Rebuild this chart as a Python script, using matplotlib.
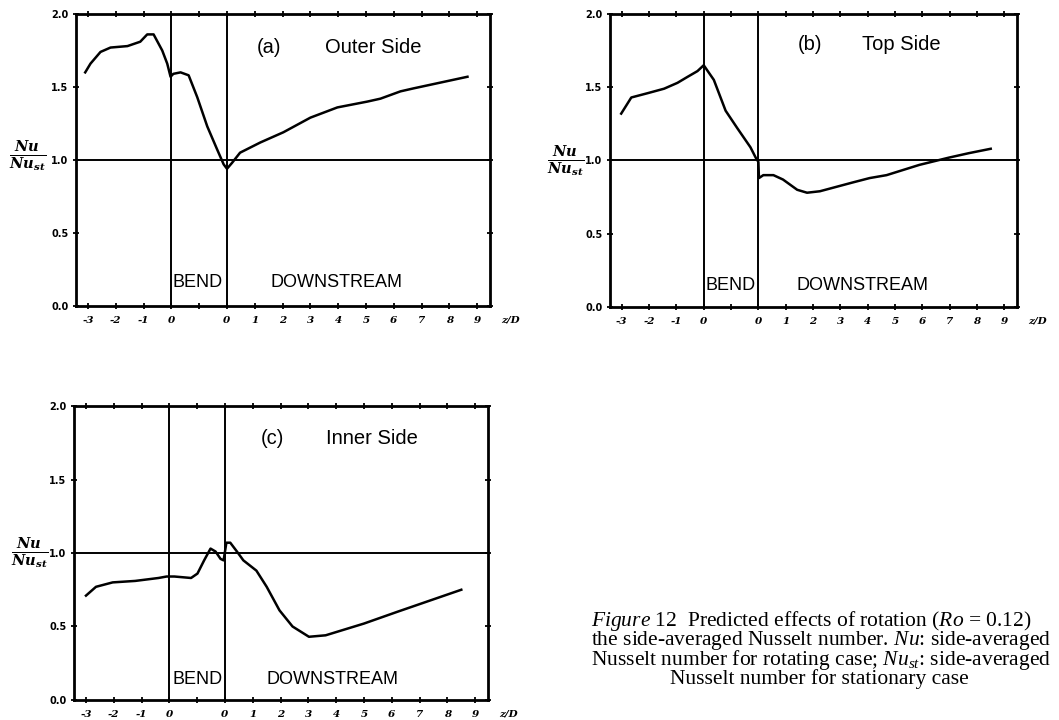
"""Figure 12: side-averaged Nusselt number ratio, rotating vs stationary (Ro = 0.12)."""

import matplotlib
matplotlib.use("Agg")
import matplotlib.pyplot as plt

plt.rcParams["mathtext.fontset"] = "custom"
plt.rcParams["mathtext.rm"] = "Liberation Serif"
plt.rcParams["mathtext.it"] = "Liberation Serif:italic"
plt.rcParams["mathtext.bf"] = "DejaVu Serif:italic:bold"

# x is a plotting coordinate: upstream x/D in [-3, 0], bend mapped to [0, 2],
# downstream z/D mapped to 2 + z/D
outer_x = [-3.10, -2.91, -2.55, -2.19, -1.58, -1.12, -0.87, -0.64, -0.33, -0.15,
           -0.03, 0.07, 0.33, 0.62, 0.93, 1.29, 1.65, 1.88, 2.00, 2.18,
           2.47, 3.20, 4.03, 5.00, 5.97, 7.05, 7.52, 8.24, 8.70, 10.65]
outer_y = [1.60, 1.66, 1.74, 1.77, 1.78, 1.81, 1.86, 1.86, 1.75, 1.66,
           1.57, 1.59, 1.60, 1.58, 1.43, 1.23, 1.07, 0.97, 0.94, 0.98,
           1.05, 1.12, 1.19, 1.29, 1.36, 1.40, 1.42, 1.47, 1.49, 1.57]

top_x = [-3.02, -2.65, -2.04, -1.45, -0.96, -0.60, -0.23, 0.00, 0.37, 0.80,
         1.23, 1.71, 1.90, 2.00, 2.02, 2.18, 2.55, 2.90, 3.42, 3.78,
         4.25, 5.45, 6.07, 6.69, 7.89, 8.98, 9.70, 10.50]
top_y = [1.32, 1.43, 1.46, 1.49, 1.53, 1.57, 1.61, 1.65, 1.55, 1.34,
         1.22, 1.09, 1.02, 0.99, 0.88, 0.90, 0.90, 0.87, 0.80, 0.78,
         0.79, 0.85, 0.88, 0.90, 0.97, 1.02, 1.05, 1.08]

inner_x = [-3.00, -2.64, -2.04, -1.23, -0.39, -0.10, 0.18, 0.78, 1.01, 1.25,
           1.48, 1.66, 1.84, 1.95, 2.05, 2.19, 2.43, 2.66, 3.13, 3.50,
           3.96, 4.43, 5.02, 5.62, 7.00, 8.20, 8.66, 10.50]
inner_y = [0.71, 0.77, 0.80, 0.81, 0.83, 0.84, 0.84, 0.83, 0.86, 0.95,
           1.03, 1.01, 0.96, 0.95, 1.07, 1.07, 1.01, 0.95, 0.88, 0.77,
           0.61, 0.50, 0.43, 0.44, 0.52, 0.60, 0.63, 0.75]

xtick_pos = list(range(-3, 12))
xtick_labels = ["-3", "-2", "-1", "0", "", "0", "1", "2", "3", "4", "5", "6", "7", "8", "9"]
ytick_pos = [0.0, 0.5, 1.0, 1.5, 2.0]
ytick_labels = ["0.0", "0.5", "1.0", "1.5", "2.0"]

caption = [
    r"$\mathit{Figure\ 12}$  Predicted effects of rotation ($\mathit{Ro}$ = 0.12)",
    r"the side-averaged Nusselt number. $\mathit{Nu}$: side-averaged",
    r"Nusselt number for rotating case; $\mathit{Nu_{st}}$: side-averaged",
    "Nusselt number for stationary case",
]

fig = plt.figure(figsize=(10.59, 7.2), dpi=100)


def panel(rect, xs, ys, tag, name, tag_x, name_x, txt_y, bend_x, down_x, lab_y, ylab_x, ylab_y):
    ax = fig.add_axes(rect)
    ax.plot(xs, ys, color="black", lw=1.8, solid_joinstyle="round")
    ax.axhline(1.0, color="black", lw=1.4)
    ax.axvline(0.0, color="black", lw=1.4)
    ax.axvline(2.0, color="black", lw=1.4)
    ax.set_xlim(-3.43, 11.46)
    ax.set_ylim(0.0, 2.0)
    for s in ax.spines.values():
        s.set_linewidth(2.0)
    ax.set_xticks(xtick_pos)
    ax.set_xticklabels(xtick_labels, fontsize=7.5, fontweight="bold",
                       fontstyle="italic", family="DejaVu Serif")
    ax.set_yticks(ytick_pos)
    ax.set_yticklabels(ytick_labels, fontsize=7, fontweight="bold", family="DejaVu Sans")
    ax.tick_params(direction="inout", length=5, width=1.3, top=True, right=True,
                   labelright=False, labeltop=False, pad=3)
    ax.tick_params(axis="x", pad=5)
    ax.text(12.2, -0.048, "z/D", transform=ax.get_xaxis_transform(), ha="center",
            va="center", fontsize=7.5, fontweight="bold", fontstyle="italic",
            family="DejaVu Serif")
    ax.text(tag_x, txt_y, tag, ha="center", va="center", fontsize=14.5, family="Liberation Sans")
    ax.text(name_x, txt_y, name, ha="left", va="center", fontsize=14.5, family="Liberation Sans")
    ax.text(bend_x, lab_y, "BEND", ha="left", va="center", fontsize=13, family="Liberation Sans")
    ax.text(down_x, lab_y, "DOWNSTREAM", ha="left", va="center", fontsize=13,
            family="Liberation Sans")
    ax.text(ylab_x, ylab_y, r"$\frac{\mathbf{Nu}}{\mathbf{Nu}_{\mathbf{st}}}$",
            transform=ax.transAxes, ha="center", va="center", fontsize=15)
    return ax


panel([0.0718, 0.575, 0.3909, 0.4056], outer_x, outer_y, "(a)", "Outer Side",
      3.5, 5.54, 1.77, 0.05, 3.56, 0.16, -0.116, 0.515)
panel([0.5760, 0.5736, 0.3843, 0.4070], top_x, top_y, "(b)", "Top Side",
      3.9, 5.8, 1.79, 0.08, 3.4, 0.15, -0.108, 0.50)
panel([0.0699, 0.0278, 0.3909, 0.4083], inner_x, inner_y, "(c)", "Inner Side",
      3.7, 5.65, 1.78, 0.12, 3.5, 0.14, -0.106, 0.50)

cap_y = [621, 641, 660, 679]
for i, line in enumerate(caption):
    x0 = 591 if i < 3 else 670
    fig.text(x0 / 1059, 1 - cap_y[i] / 720, line, ha="left", va="center",
             fontsize=15.5, family="Liberation Serif")

fig.savefig("out.png", dpi=100)
